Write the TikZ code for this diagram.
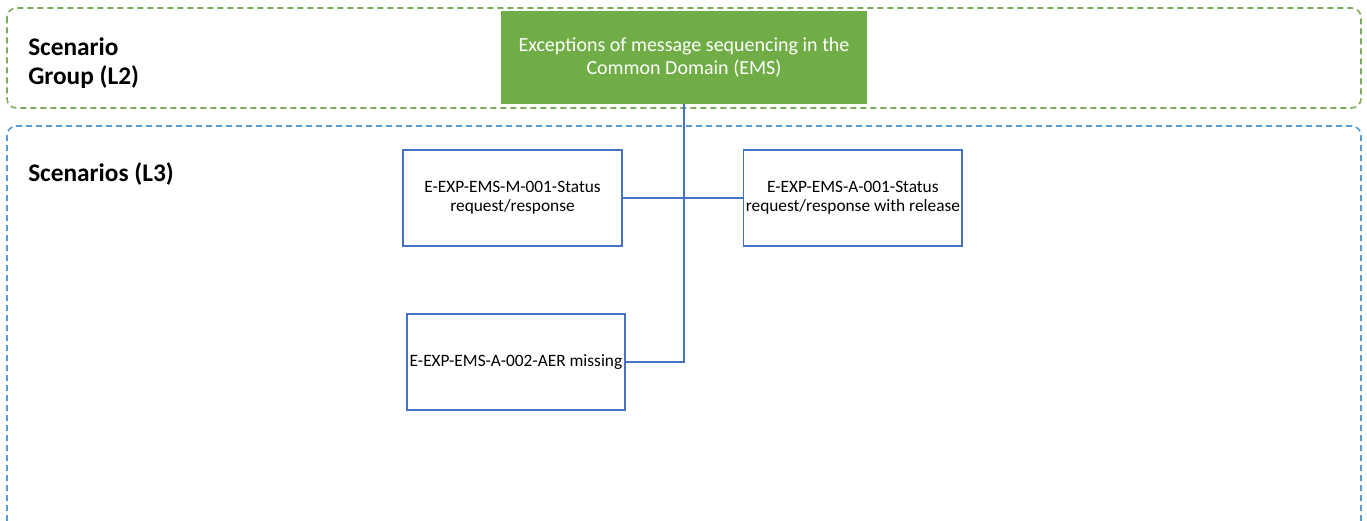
\documentclass[tikz,border=0pt]{standalone}
\usepackage{fontspec}
\setmainfont{Carlito}
\usepackage{xcolor}
\usepackage{tikz}
\usetikzlibrary{positioning}
\definecolor{egreen}{RGB}{112, 173, 71}
\definecolor{lgreen}{RGB}{125, 170, 90}
\definecolor{lblue}{RGB}{91, 155, 213}
\definecolor{dblue}{RGB}{68, 114, 196}

\begin{document}
\begin{tikzpicture}[
  x=0.75pt, y=-0.75pt,
  node distance=90pt,
  group/.style={dash pattern=on 4.5pt off 3pt, line width=1.2pt, rounded corners=7pt},
  title/.style={anchor=north west, inner sep=0pt, align=left,
                font=\fontsize{19}{22}\selectfont\bfseries},
  scen/.style={rectangle, draw=dblue, line width=1.3pt, inner xsep=0.5pt,
               minimum width=164pt, minimum height=72pt,
               align=center, font=\fontsize{13}{14.5}\selectfont},
  conn/.style={draw=dblue, line width=1.3pt}
]
  \useasboundingbox (0,0) rectangle (1367,521);

  % level frames
  \draw[group, draw=lgreen] (7,8) rectangle (1361,108);
  \draw[group, draw=lblue] (7,521) |- (1361,126) -- (1361,521);

  \node[title] (l2) at (28,37) {Scenario\\Group (L2)};
  \node[title] (l3) at (28,162) {Scenarios (L3)};

  % scenario group
  \node[rectangle, fill=egreen, minimum width=275pt, minimum height=70pt,
        align=center, text=white, font=\fontsize{15}{17.5}\selectfont]
    (ems) at (684,57.5)
    {Exceptions of message sequencing in the\\Common Domain (EMS)};

  % scenarios
  \node[scen] (m001) at (512.5,198)
    {E-EXP-EMS-M-001-Status\\request/response};
  \node[scen, right=of m001] (a001)
    {E-EXP-EMS-A-001-Status\\request/response with release};
  \node[scen] (a002) at (516,362)
    {E-EXP-EMS-A-002-AER missing};

  \draw[conn] (ems.south) |- (a002.east);
  \draw[conn] (m001.east) -- (a001.west);

\end{tikzpicture}
\end{document}
